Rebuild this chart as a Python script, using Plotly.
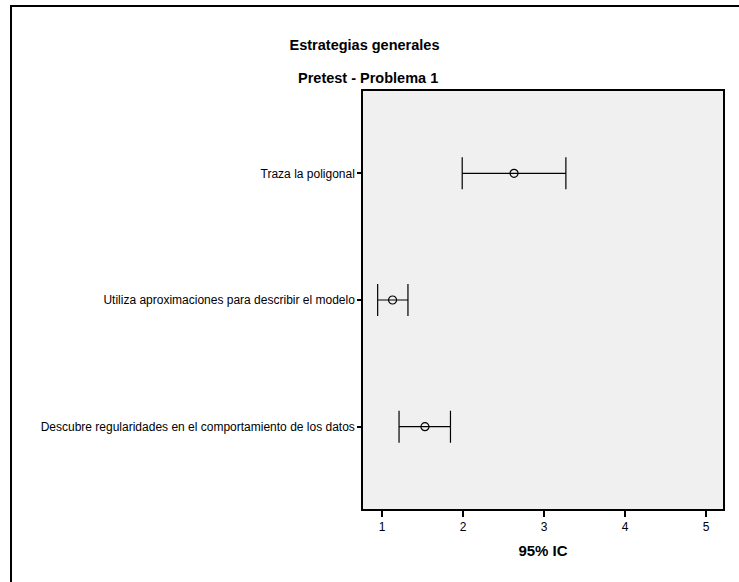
import plotly.graph_objects as go

categories = ["Traza la poligonal",
              "Utiliza aproximaciones para describir el modelo",
              "Descubre regularidades en el comportamiento de los datos"]
means = [2.63, 1.13, 1.53]
lower = [1.99, 0.946, 1.21]
upper = [3.27, 1.32, 1.845]
x_ticks = [1, 2, 3, 4, 5]

W, H = 739, 582
L, R, T, B = 363, 16, 91, 73
pw, ph = W - L - R, H - T - B

def px2paper_x(px):
    return (px - L) / pw

def px2paper_y(py):
    return 1 - (py - T) / ph

ypos = list(range(len(categories)))

fig = go.Figure()
fig.add_trace(go.Scatter(
    x=means, y=ypos, mode="markers",
    marker=dict(symbol="circle-open", size=8, color="black", line=dict(width=1.2, color="black")),
    error_x=dict(type="data", symmetric=False,
                 array=[u - m for u, m in zip(upper, means)],
                 arrayminus=[m - l for m, l in zip(means, lower)],
                 color="black", thickness=1.2, width=16),
    showlegend=False, hoverinfo="x+y",
))

font = "Liberation Sans, Arial, sans-serif"
fig.update_layout(
    width=W, height=H,
    margin=dict(l=L, r=R, t=T, b=B, pad=0),
    paper_bgcolor="white", plot_bgcolor="#F0F0F0",
    font=dict(family=font, color="black", size=12),
    xaxis=dict(range=[0.765, 5.21], tickvals=x_ticks, ticktext=[str(t) for t in x_ticks],
               showgrid=False, zeroline=False, showline=True, linecolor="black", linewidth=1.5,
               mirror=True, ticks="outside", ticklen=6, tickwidth=1.5, tickcolor="black",
               tickfont=dict(size=12, color="black"),
               title=dict(text="<b>95% IC</b>", font=dict(size=15, color="black"), standoff=12)),
    yaxis=dict(range=[2.65, -0.65], tickvals=ypos, ticktext=categories,
               showgrid=False, zeroline=False, showline=True, linecolor="black", linewidth=1.5,
               mirror=True, ticks="outside", ticklen=4, tickwidth=1.5, tickcolor="black",
               tickfont=dict(size=12, color="black")),
    title=dict(text="<b>Estrategias generales</b>", font=dict(size=14.5, color="black"),
               x=364.5 / W, xanchor="center", xref="container",
               y=1 - 45 / H, yanchor="middle", yref="container"),
    annotations=[dict(text="<b>Pretest - Problema 1</b>", font=dict(size=14.5, color="black"),
                      xref="paper", yref="paper", x=px2paper_x(368), y=px2paper_y(78),
                      xanchor="center", yanchor="middle", showarrow=False)],
    shapes=[
        dict(type="line", xref="paper", yref="paper",
             x0=px2paper_x(11), x1=px2paper_x(11), y0=px2paper_y(5), y1=px2paper_y(600),
             line=dict(color="black", width=2)),
        dict(type="line", xref="paper", yref="paper",
             x0=px2paper_x(10), x1=px2paper_x(760), y0=px2paper_y(6), y1=px2paper_y(6),
             line=dict(color="black", width=2)),
    ],
)

fig.write_html("out.html")
